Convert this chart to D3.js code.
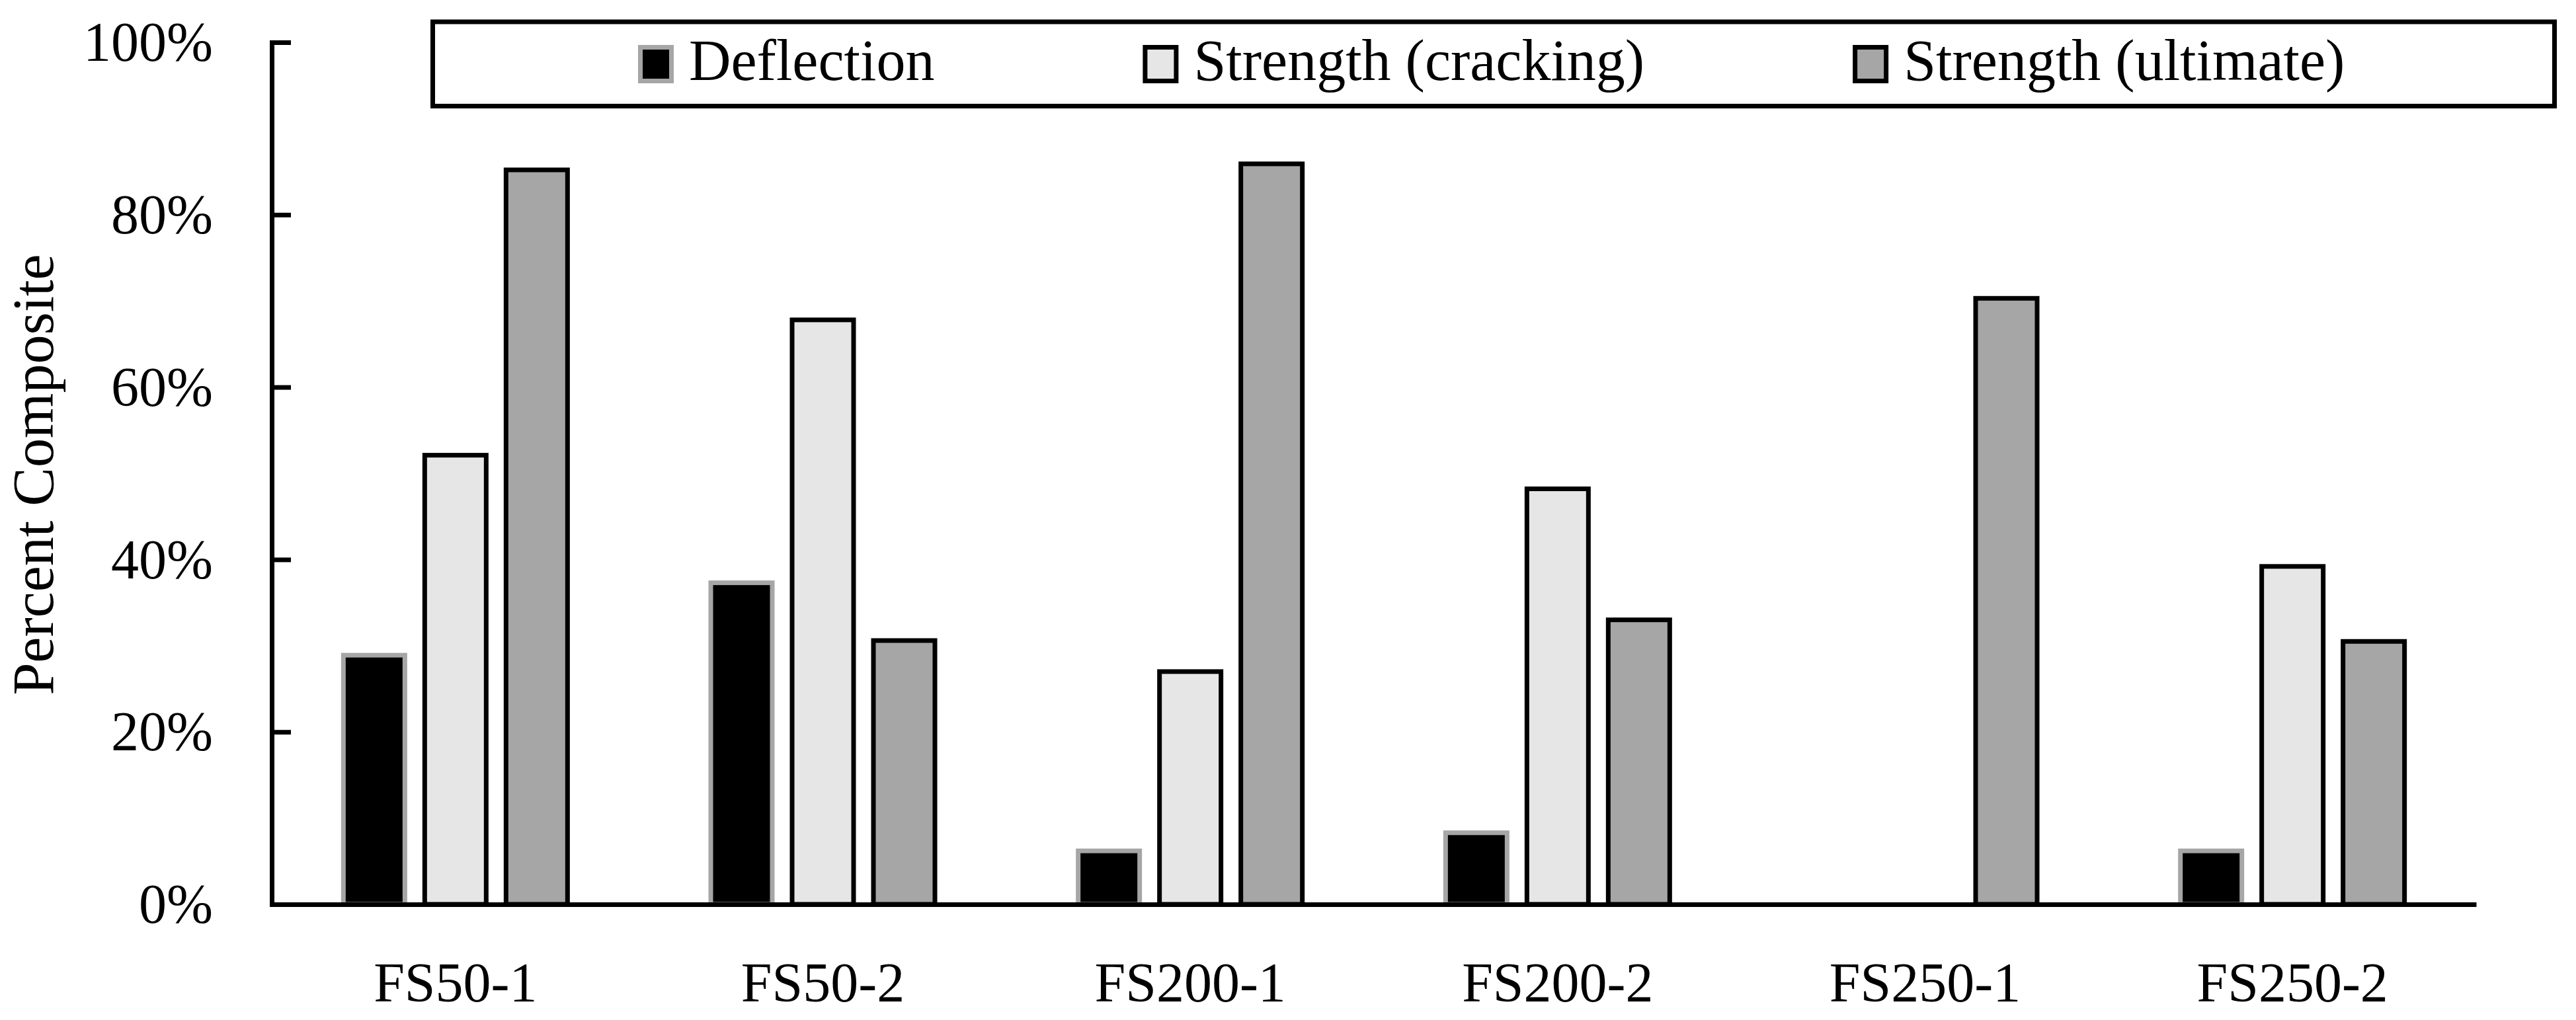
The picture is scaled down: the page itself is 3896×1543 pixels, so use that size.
<!DOCTYPE html>
<html lang="en">
<head>
  <meta charset="UTF-8">
  <title>Percent Composite by Specimen</title>
  <script src="https://d3js.org/d3.v7.min.js"></script>
  <style>
    body {
      margin: 0;
      background: #fff;
    }
    svg {
      display: block;
      background: #fff;
    }
    svg text {
      font-family: "Liberation Serif", "Times New Roman", Times, serif !important;
      fill: #000;
    }
  </style>
</head>
<body>
  <svg id="chart" width="3896" height="1543"></svg>
  <script>
    // Specimens along the x axis
    const specimens = ["FS50-1", "FS50-2", "FS200-1", "FS200-2", "FS250-1", "FS250-2"];

    // Series values, percent composite
    const deflection = [28.9, 37.3, 6.2, 8.3, 0, 6.2];
    const strengthCracking = [52.1, 67.8, 27.0, 48.2, 0, 39.2];
    const strengthUltimate = [85.2, 30.6, 85.9, 33.0, 70.3, 30.5];

    const seriesNames = ["Deflection", "Strength (cracking)", "Strength (ultimate)"];
    const yTicks = [0, 20, 40, 60, 80, 100];

    const series = [
      { name: seriesNames[0], values: deflection,       fill: "#000000", stroke: "#a6a6a6" },
      { name: seriesNames[1], values: strengthCracking, fill: "#e6e6e6", stroke: "#000000" },
      { name: seriesNames[2], values: strengthUltimate, fill: "#a6a6a6", stroke: "#000000" }
    ];

    const svg = d3.select("#chart");
    const margin = { top: 64, right: 151, bottom: 175, left: 411 };
    const width = 3896 - margin.left - margin.right;
    const height = 1543 - margin.top - margin.bottom;
    const lineW = 7;

    const g = svg.append("g")
                 .attr("transform", `translate(${margin.left}, ${margin.top})`);

    // outer scale: one band per specimen
    const x0 = d3.scaleBand()
                 .domain(specimens)
                 .range([0, width])
                 .padding(0);

    // inner scale: three bars per group
    const groupW = 346;
    const x1 = d3.scaleBand()
                 .domain(seriesNames)
                 .range([(x0.bandwidth() - groupW) / 2, (x0.bandwidth() + groupW) / 2])
                 .paddingInner(23 / 123);

    const y = d3.scaleLinear()
                .domain([0, 100])
                .range([height, 0]);

    // bars
    series.forEach(s => {
      g.append("g")
       .selectAll("rect")
       .data(specimens.map((c, i) => ({ cat: c, value: s.values[i] })).filter(d => d.value > 0))
       .join("rect")
       .attr("x", d => x0(d.cat) + x1(s.name) + lineW / 2)
       .attr("width", x1.bandwidth() - lineW)
       .attr("y", d => y(d.value))
       .attr("height", d => y(0) - y(d.value))
       .attr("fill", s.fill)
       .attr("stroke", s.stroke)
       .attr("stroke-width", lineW);
    });

    // y axis, ticks pointing inward
    const yAxis = g.append("g")
       .call(d3.axisLeft(y)
               .tickValues(yTicks)
               .tickSizeInner(-29)
               .tickSizeOuter(0)
               .tickPadding(89)
               .tickFormat(d => d + "%"));
    yAxis.attr("font-family", null).attr("font-size", 84);
    yAxis.select(".domain")
         .attr("stroke", "#000")
         .attr("stroke-width", lineW)
         .attr("stroke-linecap", "square");
    yAxis.selectAll(".tick line")
         .attr("stroke", "#000")
         .attr("stroke-width", lineW);
    yAxis.selectAll(".tick text")
         .attr("dy", "0.33em");

    // x axis, labels only
    const xAxis = g.append("g")
       .attr("transform", `translate(0, ${height})`)
       .call(d3.axisBottom(x0).tickSize(0).tickSizeOuter(0));
    xAxis.attr("font-family", null).attr("font-size", 84);
    xAxis.select(".domain")
         .attr("stroke", "#000")
         .attr("stroke-width", lineW);
    xAxis.selectAll(".tick text")
         .attr("y", 147)
         .attr("dy", 0);

    // y axis title
    svg.append("text")
       .attr("transform", `translate(80, ${margin.top + height / 2 + 2}) rotate(-90)`)
       .attr("text-anchor", "middle")
       .attr("font-size", 88)
       .text("Percent Composite");

    // legend box across the top
    const legend = svg.append("g");
    legend.append("rect")
          .attr("x", 654.5)
          .attr("y", 33)
          .attr("width", 3209)
          .attr("height", 127.5)
          .attr("fill", "#fff")
          .attr("stroke", "#000")
          .attr("stroke-width", lineW);

    let lx = 965;
    series.forEach(s => {
      const item = legend.append("g").attr("transform", `translate(${lx}, 0)`);
      item.append("rect")
          .attr("x", lineW / 2)
          .attr("y", 68 + lineW / 2)
          .attr("width", 54 - lineW)
          .attr("height", 58 - lineW)
          .attr("fill", s.fill)
          .attr("stroke", s.stroke)
          .attr("stroke-width", lineW);
      const t = item.append("text")
          .attr("x", 77)
          .attr("y", 121)
          .attr("font-size", 88)
          .text(s.name);
      lx += 77 + t.node().getComputedTextLength() + 315;
    });
  </script>
</body>
</html>
